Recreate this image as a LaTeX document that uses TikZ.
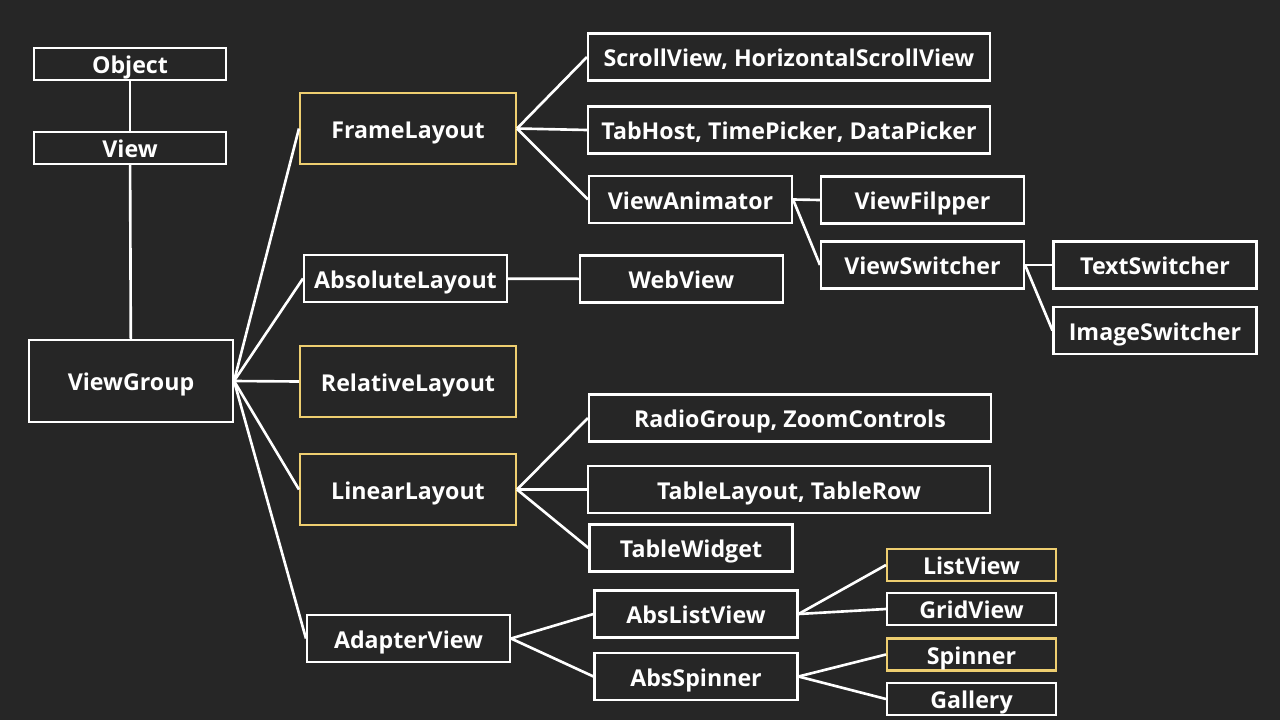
\documentclass[tikz,border=0pt]{standalone}
\usepackage{fontspec}
\setmainfont{Open Sans}
\definecolor{bgdark}{RGB}{38,38,38}
\definecolor{hlyellow}{RGB}{238,206,112}
\tikzset{
  cls/.style={draw=white, line width=1.2pt, rectangle, text=white, font=\bfseries\fontsize{13.2pt}{15pt}\selectfont, inner sep=0pt, text height=11pt, text depth=0pt},
  hl/.style={cls, draw=hlyellow},
  big/.style={minimum width=4.32cm, minimum height=1.42cm},
  mid/.style={minimum width=4.06cm, minimum height=0.94cm},
  wide/.style={minimum width=8.04cm, minimum height=0.94cm},
  tiny/.style={minimum width=3.38cm, minimum height=0.64cm},
  link/.style={white, line width=1.5pt}
}
\begin{document}
\begin{tikzpicture}[x=0.02cm, y=-0.02cm]
    \fill[bgdark] (0,0) rectangle (1280,720);
    \useasboundingbox (0,0) rectangle (1280,720);

    % left column
    \node (object) [cls, minimum width=3.84cm, minimum height=0.64cm] at (130,64) {Object};
    \node (view) [cls, minimum width=3.84cm, minimum height=0.64cm] at (130,148) {View};
    \node (viewgroup) [cls, minimum width=4.08cm, minimum height=1.64cm] at (131,381) {ViewGroup};

    % layouts
    \node (frame) [hl, big] at (408,128.5) {FrameLayout};
    \node (absolute) [cls, mid] at (405.5,278.5) {AbsoluteLayout};
    \node (relative) [hl, big] at (408,381.5) {RelativeLayout};
    \node (linear) [hl, big] at (408,489.5) {LinearLayout};
    \node (adapter) [cls, mid] at (408.5,638.5) {AdapterView};

    % frame children
    \node (scroll) [cls, wide] at (789,57) {ScrollView, HorizontalScrollView};
    \node (tabhost) [cls, wide] at (789,130) {TabHost, TimePicker, DataPicker};
    \node (animator) [cls, mid] at (690.5,199.5) {ViewAnimator};
    \node (flipper) [cls, mid] at (922.5,200) {ViewFilpper};
    \node (switcher) [cls, mid] at (922.5,265) {ViewSwitcher};
    \node (textsw) [cls, mid] at (1155,265) {TextSwitcher};
    \node (imagesw) [cls, mid] at (1155,330.5) {ImageSwitcher};
    \node (webview) [cls, mid] at (681.5,279) {WebView};

    % linear children
    \node (radio) [cls, wide] at (790,418) {RadioGroup, ZoomControls};
    \node (table) [cls, wide] at (789,489.5) {TableLayout, TableRow};
    \node (widget) [cls, mid] at (691,548) {TableWidget};

    % adapter children
    \node (abslist) [cls, mid] at (696,614) {AbsListView};
    \node (absspin) [cls, mid] at (696,676.5) {AbsSpinner};
    \node (listview) [hl, tiny] at (971.5,565) {ListView};
    \node (gridview) [cls, tiny] at (971.5,609) {GridView};
    \node (spinner) [hl, tiny] at (971.5,654.5) {Spinner};
    \node (gallery) [cls, tiny] at (971.5,699) {Gallery};

    \draw[link] (object) -- (view);
    \draw[link] (view) -- (viewgroup);
    \foreach \n in {frame, absolute, relative, linear, adapter}
        \draw[link] (viewgroup.east) -- (\n.west);
    \foreach \n in {scroll, tabhost, animator}
        \draw[link] (frame.east) -- (\n.west);
    \foreach \n in {flipper, switcher}
        \draw[link] (animator.east) -- (\n.west);
    \foreach \n in {textsw, imagesw}
        \draw[link] (switcher.east) -- (\n.west);
    \draw[link] (absolute) -- (webview);
    \foreach \n in {radio, table, widget}
        \draw[link] (linear.east) -- (\n.west);
    \foreach \n in {abslist, absspin}
        \draw[link] (adapter.east) -- (\n.west);
    \foreach \n in {listview, gridview}
        \draw[link] (abslist.east) -- (\n.west);
    \foreach \n in {spinner, gallery}
        \draw[link] (absspin.east) -- (\n.west);
\end{tikzpicture}
\end{document}
